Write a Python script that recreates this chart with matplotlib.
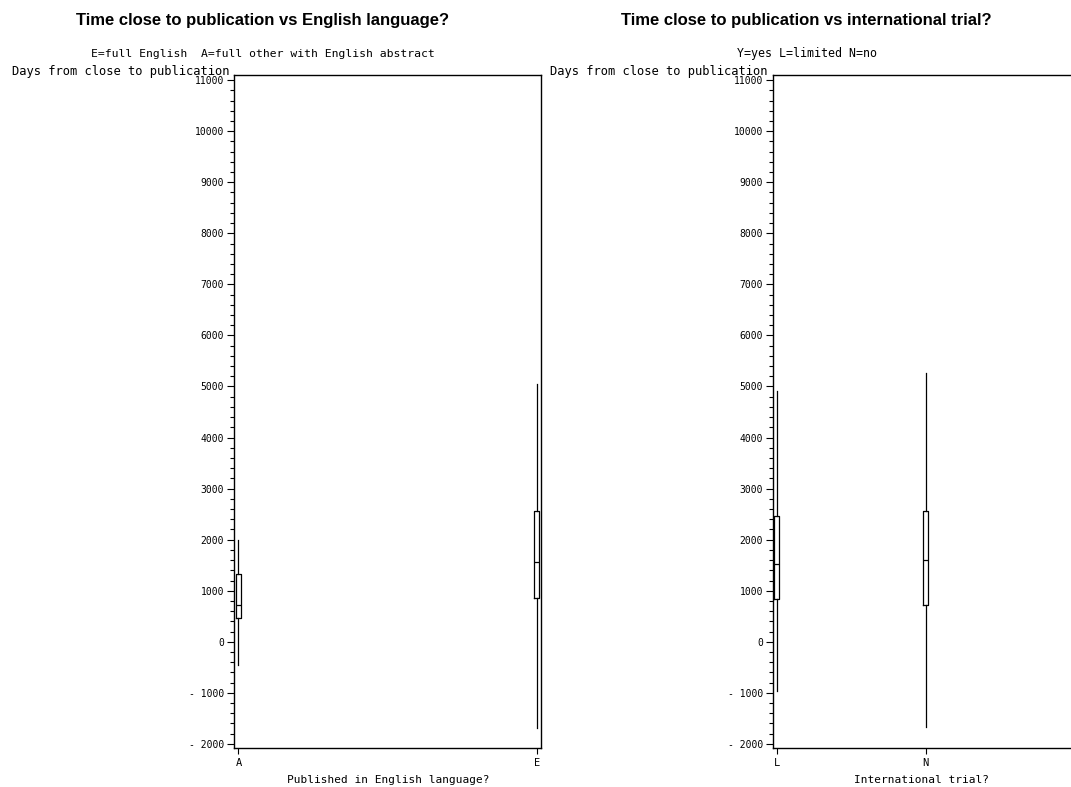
import matplotlib
matplotlib.use("Agg")
import matplotlib.pyplot as plt
from matplotlib.ticker import MultipleLocator

# ---- data ----
lang_categories = ["A", "E"]
lang_whislo = [-450, -1690]
lang_q1 = [465, 855]
lang_med = [725, 1560]
lang_q3 = [1330, 2560]
lang_whishi = [2000, 5040]

intl_categories = ["L", "N"]
intl_whislo = [-970, -1660]
intl_q1 = [840, 725]
intl_med = [1525, 1600]
intl_q3 = [2470, 2560]
intl_whishi = [4920, 5270]

yticks = list(range(-2000, 11001, 1000))
ytick_labels = ["- 2000", "- 1000"] + [str(v) for v in range(0, 11001, 1000)]

W, H = 1071, 787
fig = plt.figure(figsize=(W / 100, H / 100), dpi=100)
MONO = "DejaVu Sans Mono"


def fx(x):
    return x / W


def fy(y):
    return 1 - y / H


def make_stats(cats, lo, q1, med, q3, hi):
    stats = []
    for i in range(len(lo)):
        stats.append(dict(label=cats[i], whislo=lo[i], q1=q1[i], med=med[i],
                          q3=q3[i], whishi=hi[i], fliers=[]))
    return stats


def style_axes(ax, cats, xlim):
    ax.set_ylim(-2080, 11100)
    ax.set_xlim(*xlim)
    ax.set_yticks(yticks)
    ax.set_yticklabels(ytick_labels, fontsize=7, family=MONO)
    ax.yaxis.set_minor_locator(MultipleLocator(200))
    ax.set_xticks(range(len(cats)))
    ax.set_xticklabels(cats, fontsize=7.5, family=MONO)
    ax.tick_params(axis="y", which="major", direction="out", length=5, width=0.8, pad=2)
    ax.tick_params(axis="y", which="minor", direction="out", length=3, width=0.8)
    ax.tick_params(axis="x", which="major", direction="out", length=4, width=0.8, pad=3)
    for s in ax.spines.values():
        s.set_linewidth(1.0)
        s.set_color("black")


box_kw = dict(showfliers=False, showcaps=False, patch_artist=False,
              boxprops=dict(color="black", linewidth=0.9),
              whiskerprops=dict(color="black", linewidth=0.9),
              medianprops=dict(color="black", linewidth=0.9),
              manage_ticks=False)

# ---- left panel ----
ax1 = fig.add_axes([fx(234), fy(748), fx(540.7 - 234), (748 - 75) / H])
ax1.bxp(make_stats(lang_categories, lang_whislo, lang_q1, lang_med, lang_q3, lang_whishi),
        positions=range(len(lang_categories)), widths=0.016, **box_kw)
style_axes(ax1, lang_categories, (-0.015, 1.0135))

# ---- right panel (extends past the figure edge, as in the reference) ----
ax2 = fig.add_axes([fx(773), fy(748), fx(305.5), (748 - 75) / H])
ax2.bxp(make_stats(intl_categories, intl_whislo, intl_q1, intl_med, intl_q3, intl_whishi),
        positions=range(len(intl_categories)), widths=0.032, **box_kw)
style_axes(ax2, intl_categories, (-0.025, 2.025))

# ---- titles and labels ----
fig.text(fx(263), fy(21), "Time close to publication vs English language?",
         ha="center", va="center", fontsize=12, family="Liberation Sans", weight="bold")
fig.text(fx(806), fy(21), "Time close to publication vs international trial?",
         ha="center", va="center", fontsize=12, family="Liberation Sans", weight="bold")
fig.text(fx(263), fy(54), "E=full English  A=full other with English abstract",
         ha="center", va="center", fontsize=8.2, family=MONO)
fig.text(fx(807), fy(54), "Y=yes L=limited N=no",
         ha="center", va="center", fontsize=8.4, family=MONO)
fig.text(fx(229), fy(71), "Days from close to publication",
         ha="right", va="center", fontsize=8.7, family=MONO)
fig.text(fx(768), fy(71), "Days from close to publication",
         ha="right", va="center", fontsize=8.7, family=MONO)
fig.text(fx(388), fy(780), "Published in English language?",
         ha="center", va="center", fontsize=8, family=MONO)
fig.text(fx(922), fy(780), "International trial?",
         ha="center", va="center", fontsize=8, family=MONO)

fig.savefig("out.png", dpi=100)
